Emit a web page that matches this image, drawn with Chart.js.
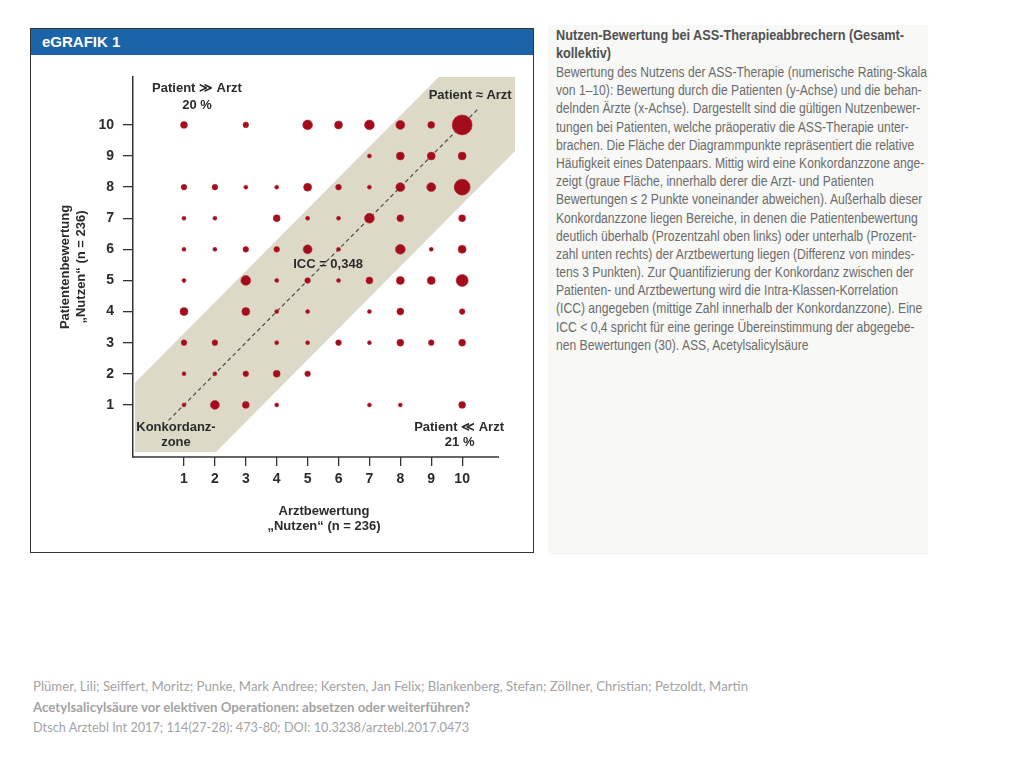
<!DOCTYPE html>
<html lang="de">
<head>
<meta charset="utf-8">
<title>eGRAFIK 1</title>
<script src="https://cdn.jsdelivr.net/npm/chart.js@4.4.1/dist/chart.umd.min.js"></script>
<style>
  html, body { margin: 0; padding: 0; background: #fff; }
  body { width: 1024px; height: 768px; position: relative; overflow: hidden; font-family: "Liberation Sans", Arial, sans-serif; }
  #figure { position: absolute; left: 30px; top: 28px; width: 502px; height: 523px; border: 1px solid #333; background: #fff; }
  #header { position: absolute; left: 0; top: 0; width: 502px; height: 26px; background: #1c64a8; color: #fff;
            font: bold 15px "Liberation Sans", Arial, sans-serif; line-height: 26px; padding-left: 11px; box-sizing: border-box; }
  #chartBox { position: absolute; left: 30px; top: 55px; width: 504px; height: 498px; }
  #panel { position: absolute; left: 548px; top: 25px; width: 380px; height: 530px; background: #f8f8f6; }
  .txt { position: absolute; left: 8px; transform-origin: left top; white-space: nowrap; }
  .txt div { height: 18.2px; line-height: 18.2px; }
  #capTitle { top: 1px; font: bold 14px "Liberation Sans Narrow", "Liberation Sans", Arial, sans-serif; color: #505050; }
  #capBody { top: 38px; font: 14px "Liberation Sans Narrow", "Liberation Sans", Arial, sans-serif; color: #6b6b6b; }
  #cite { position: absolute; left: 33px; top: 676px; white-space: nowrap;
          font: 14px Lato, "Open Sans", sans-serif; color: #a3a3a3; }
  #cite div { height: 20.5px; line-height: 20.5px; }
  #cite span { display: inline-block; transform-origin: left top; }
</style>
</head>
<body>
<div id="figure"><div id="header">eGRAFIK 1</div></div>
<div id="chartBox"><canvas id="bubbleChart" width="504" height="498"></canvas></div>

<div id="panel">
  <div class="txt" id="capTitle">
    <div><span id="titleRef">Nutzen-Bewertung bei ASS-Therapieabbrechern (Gesamt-</span></div>
    <div>kollektiv)</div>
  </div>
  <div class="txt" id="capBody">
    <div><span id="bodyRef">Bewertung des Nutzens der ASS-Therapie (numerische Rating-Skala</span></div>
    <div>von 1–10): Bewertung durch die Patienten (y-Achse) und die behan-</div>
    <div>delnden Ärzte (x-Achse). Dargestellt sind die gültigen Nutzenbewer-</div>
    <div>tungen bei Patienten, welche präoperativ die ASS-Therapie unter-</div>
    <div>brachen. Die Fläche der Diagrammpunkte repräsentiert die relative</div>
    <div>Häufigkeit eines Datenpaars. Mittig wird eine Konkordanzzone ange-</div>
    <div>zeigt (graue Fläche, innerhalb derer die Arzt- und Patienten</div>
    <div>Bewertungen ≤ 2 Punkte voneinander abweichen). Außerhalb dieser</div>
    <div>Konkordanzzone liegen Bereiche, in denen die Patientenbewertung</div>
    <div>deutlich überhalb (Prozentzahl oben links) oder unterhalb (Prozent-</div>
    <div>zahl unten rechts) der Arztbewertung liegen (Differenz von mindes-</div>
    <div>tens 3 Punkten). Zur Quantifizierung der Konkordanz zwischen der</div>
    <div>Patienten- und Arztbewertung wird die Intra-Klassen-Korrelation</div>
    <div>(ICC) angegeben (mittige Zahl innerhalb der Konkordanzzone). Eine</div>
    <div>ICC &lt; 0,4 spricht für eine geringe Übereinstimmung der abgegebe-</div>
    <div>nen Bewertungen (30). ASS, Acetylsalicylsäure</div>
  </div>
</div>

<div id="cite">
  <div><span data-w="715">Plümer, Lili; Seiffert, Moritz; Punke, Mark Andree; Kersten, Jan Felix; Blankenberg, Stefan; Zöllner, Christian; Petzoldt, Martin</span></div>
  <div><span data-w="437" style="font-weight:bold">Acetylsalicylsäure vor elektiven Operationen: absetzen oder weiterführen?</span></div>
  <div><span data-w="436">Dtsch Arztebl Int 2017; 114(27-28): 473-80; DOI: 10.3238/arztebl.2017.0473</span></div>
</div>

<script>
// Bewertungsskala 1..10
const ratingTicks = [1, 2, 3, 4, 5, 6, 7, 8, 9, 10];
const doctorRatings = [1, 2, 3, 4, 5, 6, 7, 8, 9, 10];   // x-Achse
const patientRatings = [10, 9, 8, 7, 6, 5, 4, 3, 2, 1];  // y-Achse, Zeilen von oben

// Anzahl Datenpaare je Zeile (Patient), Spalten = Arztbewertung 1..10 (aus der Grafik geschätzt)
const row10 = [3, 0, 2, 0, 6, 4, 6, 5, 3, 25];
const row9  = [0, 0, 0, 0, 0, 0, 1, 4, 4, 4];
const row8  = [2, 2, 1, 1, 4, 2, 1, 5, 5, 16];
const row7  = [1, 1, 0, 3, 1, 1, 6, 3, 0, 3];
const row6  = [1, 1, 2, 2, 5, 1, 0, 6, 1, 4];
const row5  = [1, 0, 6, 1, 2, 1, 3, 4, 4, 9];
const row4  = [4, 0, 4, 1, 1, 0, 1, 3, 0, 2];
const row3  = [2, 2, 0, 1, 1, 2, 1, 3, 2, 3];
const row2  = [1, 1, 2, 3, 2, 0, 0, 0, 0, 0];
const row1  = [1, 5, 3, 1, 0, 0, 1, 1, 0, 3];

// Konkordanzzone (Abstand zur Diagonale) und Diagonale
const bandUpper = 2.3;
const bandLower = -2.55;
const diagonalEnds = [0.5, 10.5];

const iccText = "ICC = 0,348";
const shareAbove = "20 %";
const shareBelow = "21 %";

const FONT = '"Liberation Sans Narrow", "Liberation Sans", Arial, sans-serif';
const TEXT_COLOR = "#2b2b2b";

const rows = [row10, row9, row8, row7, row6, row5, row4, row3, row2, row1];
const bubbles = [];
rows.forEach((row, i) => {
    row.forEach((n, j) => {
        if (n > 0) bubbles.push({ x: doctorRatings[j], y: patientRatings[i], r: 2 * Math.sqrt(n) });
    });
});

// graue Konkordanzzone + x-Achsenlinie
const bandPlugin = {
    id: "band",
    beforeDatasetsDraw(chart) {
        const { ctx, chartArea: a, scales: { x, y } } = chart;
        ctx.save();
        ctx.beginPath();
        ctx.rect(a.left + 2, a.top, a.right - a.left - 2, a.bottom - a.top - 5);
        ctx.clip();
        const x0 = x.min - 2, x1 = x.max + 2;
        ctx.beginPath();
        ctx.moveTo(x.getPixelForValue(x0), y.getPixelForValue(x0 + bandUpper));
        ctx.lineTo(x.getPixelForValue(x1), y.getPixelForValue(x1 + bandUpper));
        ctx.lineTo(x.getPixelForValue(x1), y.getPixelForValue(x1 + bandLower));
        ctx.lineTo(x.getPixelForValue(x0), y.getPixelForValue(x0 + bandLower));
        ctx.closePath();
        ctx.fillStyle = "#dcd9c7";
        ctx.fill();
        ctx.restore();

        ctx.save();
        ctx.strokeStyle = "#333";
        ctx.lineWidth = 1.5;
        ctx.beginPath();
        ctx.moveTo(a.left - 1, a.bottom);
        ctx.lineTo(a.right - 16, a.bottom);
        ctx.stroke();
        ctx.restore();
    }
};

// Beschriftungen im Diagramm
const notes = [
    { text: "Patient ≫ Arzt", x: 1.42, y: 11.16 },
    { text: shareAbove, x: 1.42, y: 10.64 },
    { text: "Patient ≈ Arzt", x: 10.26, y: 10.96 },
    { text: iccText, x: 5.66, y: 5.5 },
    { text: "Konkordanz-", x: 0.74, y: 0.26 },
    { text: "zone", x: 0.74, y: -0.22 },
    { text: "Patient ≪ Arzt", x: 9.9, y: 0.26 },
    { text: shareBelow, x: 9.92, y: -0.22 }
];
const notesPlugin = {
    id: "notes",
    afterDatasetsDraw(chart) {
        const { ctx, scales: { x, y } } = chart;
        ctx.save();
        ctx.font = "bold 13px " + FONT;
        ctx.fillStyle = TEXT_COLOR;
        ctx.textAlign = "center";
        ctx.textBaseline = "middle";
        notes.forEach(n => ctx.fillText(n.text, x.getPixelForValue(n.x), y.getPixelForValue(n.y)));
        ctx.restore();
    }
};

const tickFont = { family: FONT, size: 14, weight: "bold" };
const titleFont = { family: FONT, size: 13, weight: "bold", lineHeight: 1.18 };

new Chart(document.getElementById("bubbleChart").getContext("2d"), {
    type: "bubble",
    data: {
        datasets: [
            {
                type: "line",
                data: diagonalEnds.map(v => ({ x: v, y: v })),
                borderColor: "#4a4a4a",
                borderWidth: 1.2,
                borderDash: [4, 3],
                pointRadius: 0,
                fill: false,
                order: 2
            },
            {
                data: bubbles,
                backgroundColor: "#a30d1b",
                borderColor: "#b32a35",
                borderWidth: 0.6,
                order: 1
            }
        ]
    },
    options: {
        responsive: false,
        animation: false,
        devicePixelRatio: 1,
        layout: { padding: { top: 22, right: 19, left: 0, bottom: 0 } },
        plugins: {
            legend: { display: false },
            tooltip: { enabled: false }
        },
        events: [],
        scales: {
            x: {
                type: "linear",
                min: -0.65,
                max: 11.71,
                afterBuildTicks: s => { s.ticks = ratingTicks.map(v => ({ value: v })); },
                afterFit: s => { s.height = 96; },
                grid: { drawOnChartArea: false, drawTicks: true, tickLength: 9, color: "#333", lineWidth: 1.3 },
                border: { display: false },
                ticks: { padding: 5, color: TEXT_COLOR, font: tickFont, maxRotation: 0 },
                title: {
                    display: true,
                    text: ["Arztbewertung", "„Nutzen“ (n = 236)"],
                    color: TEXT_COLOR,
                    font: titleFont,
                    padding: { top: 0, bottom: 19 }
                }
            },
            y: {
                type: "linear",
                min: -0.675,
                max: 11.54,
                afterBuildTicks: s => { s.ticks = ratingTicks.map(v => ({ value: v })); },
                afterFit: s => { s.width = 103; },
                grid: { drawOnChartArea: false, drawTicks: true, tickLength: 10, color: "#333", lineWidth: 1.3 },
                border: { display: true, color: "#333", width: 1.5 },
                ticks: { padding: 9, color: TEXT_COLOR, font: tickFont },
                title: {
                    display: true,
                    text: ["Patientenbewertung", "„Nutzen“ (n = 236)"],
                    color: TEXT_COLOR,
                    font: titleFont,
                    padding: { top: 28, bottom: 0 }
                }
            }
        }
    },
    plugins: [bandPlugin, notesPlugin]
});

// Textblöcke auf die Breite der Vorlage bringen
function fitBlock(blockId, refId, target) {
    const w = document.getElementById(refId).getBoundingClientRect().width;
    document.getElementById(blockId).style.transform = "scaleX(" + (target / w) + ")";
}
fitBlock("capTitle", "titleRef", 348);
fitBlock("capBody", "bodyRef", 371);
document.querySelectorAll("#cite span").forEach(s => {
    const w = s.getBoundingClientRect().width;
    s.style.transform = "scaleX(" + (Number(s.dataset.w) / w) + ")";
});
</script>
</body>
</html>
